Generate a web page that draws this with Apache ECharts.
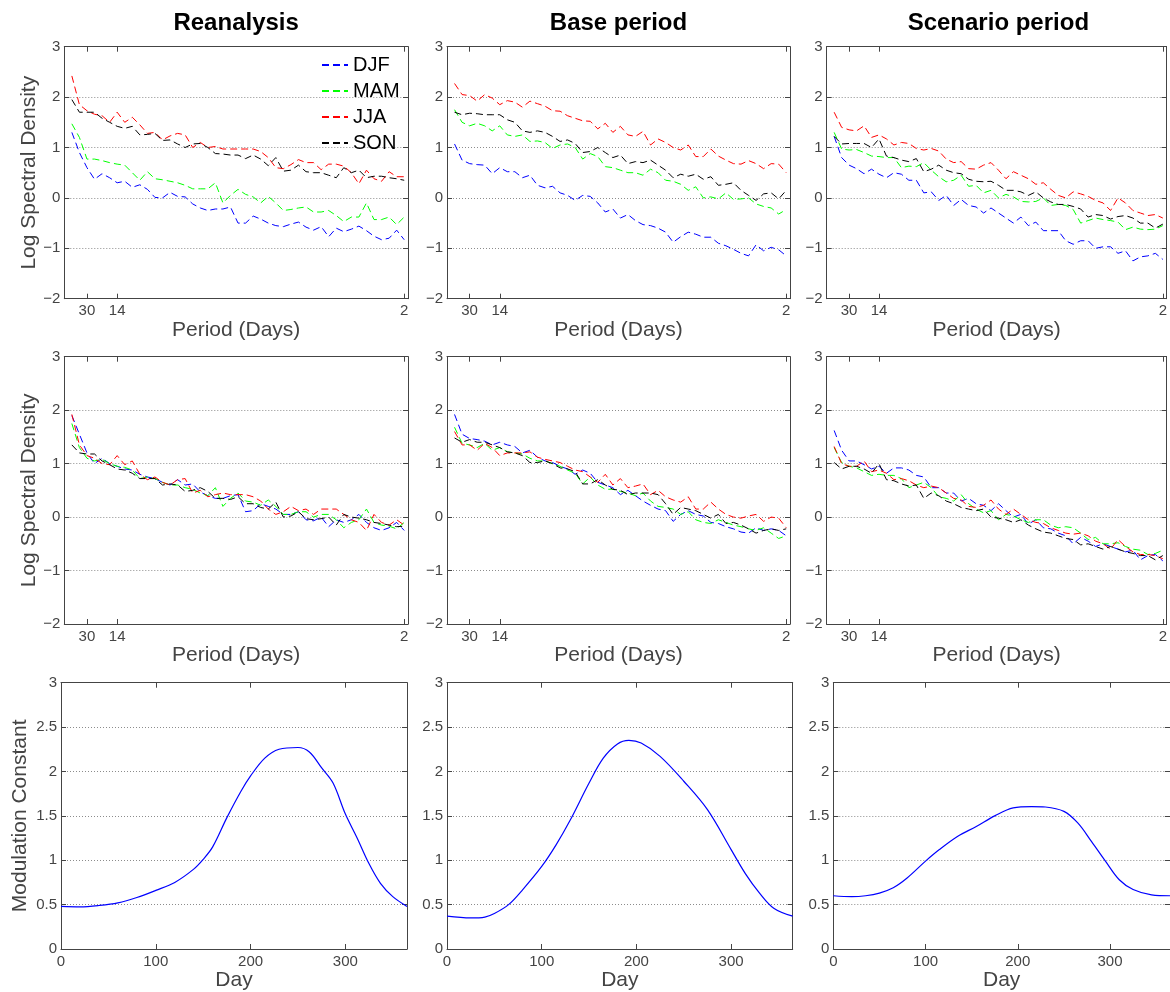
<!DOCTYPE html>
<html>
<head>
<meta charset="utf-8">
<title>Spectral density and modulation constant</title>
<script src="https://cdn.jsdelivr.net/npm/echarts@6/dist/echarts.min.js"></script>
<style>
  html, body { margin: 0; padding: 0; background: #fff; }
  #main { width: 1170px; height: 992px; }
</style>
</head>
<body>
<div id="main"></div>
<script>
// frequency index k (period = 90/k days), ticks shown as periods
var freqIndex = [1,2,3,4,5,6,7,8,9,10,11,12,13,14,15,16,17,18,19,20,21,22,23,24,25,26,27,28,29,30,31,32,33,34,35,36,37,38,39,40,41,42,43,44,45];
var periodTicks = [3, 7, 45];
var periodLabels = ['30', '14', '2'];
var dayTicks = [0, 100, 200, 300];
var seasons = ['DJF', 'MAM', 'JJA', 'SON'];
var seasonColors = ['#0000ff', '#00ff00', '#ff0000', '#000000'];
var columnTitles = ['Reanalysis', 'Base period', 'Scenario period'];

// row 1: raw log spectral density
var reanDJF = [1.30,0.90,0.60,0.37,0.48,0.40,0.30,0.33,0.21,0.26,0.17,0.01,0.00,0.11,0.03,0.02,-0.12,-0.20,-0.25,-0.22,-0.22,-0.18,-0.50,-0.50,-0.36,-0.42,-0.50,-0.55,-0.57,-0.52,-0.48,-0.58,-0.64,-0.57,-0.77,-0.60,-0.67,-0.62,-0.56,-0.65,-0.76,-0.83,-0.80,-0.64,-0.83];
var reanMAM = [1.47,1.20,0.77,0.77,0.74,0.70,0.67,0.65,0.50,0.35,0.52,0.38,0.36,0.33,0.30,0.25,0.18,0.18,0.18,0.30,-0.10,0.05,0.17,0.07,0.02,-0.10,0.03,-0.10,-0.25,-0.23,-0.20,-0.18,-0.28,-0.28,-0.25,-0.35,-0.47,-0.38,-0.38,-0.10,-0.43,-0.43,-0.38,-0.53,-0.38];
var reanJJA = [2.42,1.85,1.73,1.66,1.63,1.50,1.70,1.50,1.60,1.45,1.28,1.30,1.15,1.23,1.28,1.25,1.00,1.10,1.00,1.02,0.97,0.97,0.97,0.97,0.97,0.92,0.80,0.60,0.58,0.66,0.76,0.70,0.70,0.56,0.67,0.67,0.63,0.50,0.28,0.55,0.38,0.33,0.52,0.42,0.42];
var reanSON = [1.95,1.70,1.70,1.70,1.58,1.50,1.42,1.38,1.42,1.25,1.26,1.28,1.14,1.15,1.07,1.00,1.07,1.08,1.00,0.88,0.87,0.85,0.85,0.78,0.85,0.77,0.64,0.80,0.53,0.55,0.65,0.52,0.50,0.50,0.45,0.40,0.60,0.50,0.55,0.40,0.43,0.43,0.40,0.38,0.35];

var baseDJF = [1.07,0.75,0.68,0.66,0.65,0.48,0.60,0.52,0.52,0.40,0.45,0.25,0.20,0.23,0.10,0.05,-0.05,0.05,0.03,-0.10,-0.28,-0.22,-0.40,-0.33,-0.45,-0.53,-0.55,-0.60,-0.68,-0.88,-0.77,-0.68,-0.72,-0.78,-0.78,-0.90,-0.95,-1.02,-1.10,-1.15,-0.93,-1.05,-0.98,-1.03,-1.15];
var baseMAM = [1.75,1.50,1.43,1.48,1.43,1.33,1.43,1.25,1.22,1.25,1.12,1.13,1.10,0.98,1.05,1.07,1.00,0.77,0.88,0.82,0.62,0.60,0.55,0.50,0.50,0.45,0.57,0.50,0.35,0.33,0.27,0.15,0.22,0.00,0.02,-0.02,0.10,-0.03,-0.02,0.00,-0.12,-0.17,-0.20,-0.32,-0.23];
var baseJJA = [2.27,2.05,2.03,1.92,2.05,1.98,1.85,1.93,1.90,1.80,1.92,1.87,1.82,1.73,1.72,1.63,1.58,1.53,1.52,1.37,1.48,1.30,1.42,1.25,1.22,1.32,1.05,1.17,1.10,1.00,0.95,1.05,0.82,0.82,0.97,0.83,0.75,0.68,0.67,0.74,0.68,0.58,0.68,0.67,0.50];
var baseSON = [1.70,1.65,1.68,1.67,1.65,1.65,1.65,1.55,1.50,1.33,1.30,1.33,1.30,1.22,1.12,1.15,1.08,0.90,0.92,1.00,0.90,0.80,0.85,0.68,0.72,0.70,0.75,0.65,0.55,0.40,0.47,0.43,0.47,0.37,0.42,0.25,0.27,0.30,0.15,0.05,-0.05,0.08,0.10,-0.02,0.15];

var scenDJF = [1.22,0.80,0.65,0.58,0.48,0.57,0.47,0.40,0.50,0.47,0.35,0.35,0.10,0.12,-0.05,0.05,-0.15,-0.03,-0.15,-0.18,-0.30,-0.20,-0.30,-0.40,-0.50,-0.38,-0.55,-0.48,-0.65,-0.65,-0.65,-0.85,-0.92,-0.85,-0.85,-1.00,-0.97,-0.97,-1.10,-1.05,-1.25,-1.17,-1.15,-1.10,-1.22];
var scenMAM = [1.30,0.97,0.95,0.96,0.90,0.83,0.82,0.80,0.80,0.60,0.63,0.62,0.70,0.55,0.42,0.32,0.35,0.45,0.23,0.25,0.10,0.15,0.00,0.07,0.02,-0.07,-0.08,-0.07,0.00,-0.15,-0.13,-0.15,-0.23,-0.50,-0.45,-0.40,-0.43,-0.45,-0.48,-0.63,-0.58,-0.62,-0.63,-0.62,-0.55];
var scenJJA = [1.70,1.40,1.35,1.33,1.43,1.20,1.25,1.17,1.05,1.10,1.08,0.98,0.95,0.98,0.93,0.77,0.70,0.72,0.58,0.57,0.65,0.70,0.55,0.38,0.52,0.45,0.38,0.27,0.30,0.17,0.05,0.00,0.12,0.08,0.03,-0.05,-0.10,-0.25,0.00,-0.10,-0.25,-0.30,-0.35,-0.33,-0.40];
var scenSON = [1.22,1.07,1.08,1.08,1.08,1.00,1.17,0.83,0.80,0.75,0.72,0.78,0.52,0.57,0.65,0.55,0.50,0.48,0.37,0.33,0.32,0.33,0.25,0.15,0.15,0.12,0.05,0.12,0.00,-0.08,-0.13,-0.13,-0.17,-0.22,-0.38,-0.33,-0.35,-0.42,-0.37,-0.35,-0.40,-0.50,-0.50,-0.60,-0.52];

// row 2: after removing the seasonal modulation
var reanNormDJF = [1.90,1.55,1.20,1.00,1.10,1.00,0.95,0.90,0.88,0.80,0.75,0.72,0.65,0.60,0.70,0.60,0.62,0.47,0.40,0.35,0.35,0.40,0.42,0.10,0.12,0.25,0.20,0.15,0.05,0.05,0.10,-0.05,-0.07,0.00,-0.18,-0.05,-0.10,-0.05,0.05,-0.10,-0.20,-0.25,-0.20,-0.10,-0.25];
var reanNormMAM = [1.75,1.30,1.10,1.05,1.08,1.00,0.95,0.93,0.88,0.72,0.75,0.72,0.65,0.60,0.60,0.55,0.52,0.45,0.40,0.55,0.20,0.35,0.45,0.30,0.28,0.22,0.32,0.20,0.05,0.05,0.10,0.10,0.00,0.05,0.05,-0.05,-0.20,-0.10,-0.05,0.15,-0.10,-0.15,-0.17,-0.22,-0.10];
var reanNormJJA = [1.92,1.35,1.15,1.10,1.00,0.98,1.15,0.98,1.05,0.80,0.70,0.75,0.65,0.60,0.70,0.72,0.45,0.50,0.38,0.42,0.45,0.42,0.42,0.42,0.38,0.30,0.15,0.05,0.10,0.20,0.12,0.15,0.05,0.15,0.15,0.15,0.05,-0.05,-0.10,-0.25,0.05,-0.10,-0.15,-0.05,-0.15];
var reanNormSON = [1.35,1.20,1.18,1.18,1.05,0.98,0.90,0.88,0.82,0.72,0.72,0.72,0.60,0.62,0.60,0.48,0.50,0.55,0.48,0.35,0.35,0.33,0.38,0.25,0.25,0.18,0.15,0.28,0.00,0.02,0.10,-0.03,-0.05,-0.03,0.00,-0.15,0.05,0.00,-0.02,-0.05,-0.10,-0.12,-0.15,-0.18,-0.17];

var baseNormDJF = [1.92,1.55,1.47,1.45,1.42,1.35,1.40,1.35,1.32,1.20,1.25,1.12,1.05,1.02,0.95,0.90,0.80,0.88,0.82,0.65,0.60,0.55,0.42,0.50,0.40,0.30,0.22,0.15,0.12,-0.08,0.05,0.12,0.05,0.02,-0.10,-0.12,-0.18,-0.22,-0.28,-0.30,-0.20,-0.25,-0.22,-0.25,-0.35];
var baseNormMAM = [1.68,1.38,1.35,1.30,1.38,1.25,1.30,1.22,1.20,1.18,1.10,1.05,1.05,1.00,0.95,0.88,0.82,0.62,0.75,0.60,0.52,0.52,0.48,0.45,0.40,0.45,0.30,0.20,0.18,0.15,0.05,0.10,-0.05,-0.10,-0.12,-0.05,-0.10,-0.15,-0.18,-0.22,-0.25,-0.20,-0.30,-0.40,-0.35];
var baseNormJJA = [1.60,1.35,1.35,1.25,1.38,1.30,1.15,1.20,1.20,1.20,1.22,1.12,1.08,1.05,1.02,0.95,0.88,0.85,0.75,0.65,0.80,0.60,0.72,0.55,0.58,0.62,0.42,0.50,0.38,0.32,0.28,0.38,0.15,0.15,0.28,0.15,0.05,0.00,-0.02,0.02,0.05,-0.08,0.00,-0.02,-0.20];
var baseNormSON = [1.48,1.40,1.45,1.40,1.40,1.35,1.30,1.22,1.20,1.15,1.02,1.02,1.05,1.00,0.92,0.90,0.85,0.62,0.62,0.70,0.60,0.52,0.50,0.42,0.45,0.45,0.45,0.42,0.25,0.05,0.18,0.15,0.12,0.05,-0.02,0.05,-0.12,-0.10,-0.15,-0.22,-0.30,-0.25,-0.22,-0.25,-0.22];

var scenNormDJF = [1.62,1.25,1.05,1.05,0.98,0.90,0.95,0.82,0.92,0.92,0.88,0.78,0.75,0.55,0.55,0.45,0.45,0.30,0.35,0.25,0.22,0.12,0.25,0.12,0.00,0.05,-0.13,-0.05,-0.20,-0.22,-0.30,-0.35,-0.50,-0.38,-0.45,-0.55,-0.50,-0.55,-0.60,-0.65,-0.62,-0.80,-0.72,-0.70,-0.82];
var scenNormMAM = [1.30,1.02,0.95,0.92,0.85,0.78,0.80,0.78,0.78,0.72,0.55,0.60,0.65,0.55,0.38,0.35,0.30,0.42,0.25,0.15,0.08,0.12,-0.05,0.05,0.02,-0.05,-0.10,-0.05,-0.05,-0.15,-0.20,-0.18,-0.20,-0.30,-0.42,-0.38,-0.50,-0.50,-0.48,-0.55,-0.60,-0.62,-0.70,-0.68,-0.62];
var scenNormJJA = [1.32,1.00,0.95,0.95,1.05,0.85,0.88,0.82,0.70,0.72,0.68,0.60,0.55,0.58,0.55,0.45,0.35,0.32,0.20,0.18,0.22,0.32,0.15,0.05,0.15,0.05,-0.05,-0.10,-0.12,-0.20,-0.25,-0.30,-0.32,-0.30,-0.35,-0.45,-0.50,-0.60,-0.42,-0.55,-0.65,-0.70,-0.70,-0.72,-0.78];
var scenNormSON = [1.02,0.90,0.95,0.95,0.90,0.82,1.00,0.70,0.68,0.62,0.58,0.60,0.35,0.45,0.40,0.30,0.25,0.18,0.15,0.12,0.15,0.00,-0.02,-0.05,-0.10,-0.05,-0.15,-0.22,-0.28,-0.30,-0.35,-0.40,-0.42,-0.52,-0.50,-0.55,-0.60,-0.55,-0.60,-0.65,-0.68,-0.72,-0.72,-0.80,-0.72];

// row 3: modulation constant by day of year
var reanDays = [0,20,40,60,80,100,120,140,150,160,175,190,200,215,230,250,262,275,287,300,312,325,337,350,365];
var reanMod = [0.48,0.475,0.49,0.52,0.58,0.66,0.75,0.90,1.01,1.15,1.48,1.78,1.95,2.15,2.25,2.27,2.22,2.04,1.87,1.52,1.26,0.96,0.74,0.59,0.48];
var baseDays = [0,25,40,50,65,80,100,115,130,150,165,180,192,205,225,250,275,300,315,330,345,365];
var baseMod = [0.37,0.35,0.36,0.40,0.50,0.67,0.93,1.17,1.45,1.87,2.15,2.31,2.35,2.32,2.17,1.89,1.57,1.12,0.85,0.63,0.46,0.37];
var scenDays = [0,20,35,50,65,80,100,115,135,155,175,195,215,230,250,265,280,295,310,325,345,365];
var scenMod = [0.60,0.59,0.60,0.63,0.69,0.80,0.99,1.12,1.27,1.38,1.50,1.59,1.605,1.60,1.55,1.42,1.21,0.99,0.78,0.67,0.61,0.60];

var spectra = [
  [reanDJF, reanMAM, reanJJA, reanSON],
  [baseDJF, baseMAM, baseJJA, baseSON],
  [scenDJF, scenMAM, scenJJA, scenSON],
  [reanNormDJF, reanNormMAM, reanNormJJA, reanNormSON],
  [baseNormDJF, baseNormMAM, baseNormJJA, baseNormSON],
  [scenNormDJF, scenNormMAM, scenNormJJA, scenNormSON]
];
var modulation = [[reanDays, reanMod], [baseDays, baseMod], [scenDays, scenMod]];

var font = '"Liberation Sans", Arial, Helvetica, sans-serif';
var gray = '#444';

// panel boxes in px
var boxes = [
  {left: 64.3, top: 46.7, width: 343.7, height: 252},
  {left: 447, top: 46.7, width: 343, height: 252},
  {left: 826.7, top: 46.7, width: 343.3, height: 252},
  {left: 64.3, top: 356.7, width: 343.7, height: 267.3},
  {left: 447, top: 356.7, width: 343, height: 267.3},
  {left: 826.7, top: 356.7, width: 343.3, height: 267.3},
  {left: 61, top: 682.7, width: 346, height: 266.6},
  {left: 447, top: 682.7, width: 345.7, height: 266.6},
  {left: 833.3, top: 682.7, width: 346.5, height: 266.6}
];

function pairs(xs, ys) {
  var out = [];
  for (var i = 0; i < xs.length; i++) out.push([xs[i], ys[i]]);
  return out;
}

function minusSign(v) {
  return String(v).replace('-', '\u2212');
}

var nameStyle = {fontSize: 21, color: gray, fontFamily: font};
var labelStyle = {fontSize: 15, color: gray, fontFamily: font};

var grid = [], xAxis = [], yAxis = [], series = [];

boxes.forEach(function (b, g) {
  grid.push({left: b.left, top: b.top, width: b.width, height: b.height, containLabel: false});
  var isMod = g >= 6;
  var ticks = isMod ? dayTicks : periodTicks;
  var xBase = {
    gridIndex: g, type: 'value', min: 0, max: isMod ? 365 : 45.5,
    axisLine: {show: true, onZero: false, lineStyle: {color: gray, width: 1}},
    axisTick: {show: true, inside: true, length: 5, customValues: ticks, lineStyle: {color: gray}},
    splitLine: {show: false}
  };
  xAxis.push(Object.assign({}, xBase, {
    position: 'bottom',
    axisLabel: Object.assign({
      customValues: ticks, margin: 5,
      formatter: function (v) { return isMod ? String(v) : periodLabels[periodTicks.indexOf(v)]; }
    }, labelStyle),
    name: isMod ? 'Day' : 'Period (Days)', nameLocation: 'middle', nameGap: isMod ? 21 : 19,
    nameTextStyle: nameStyle
  }));
  xAxis.push(Object.assign({}, xBase, {position: 'top', axisLabel: {show: false}}));

  var yBase = {
    gridIndex: g, type: 'value',
    min: isMod ? 0 : -2, max: 3, interval: isMod ? 0.5 : 1,
    axisLine: {show: true, onZero: false, lineStyle: {color: gray, width: 1}},
    axisTick: {show: true, inside: true, length: 5, lineStyle: {color: gray}}
  };
  var yLeft = Object.assign({}, yBase, {
    position: 'left',
    axisLabel: Object.assign({margin: 4, formatter: minusSign}, labelStyle),
    splitLine: {show: true, lineStyle: {color: '#8c8c8c', width: 1, type: [1, 2]}}
  });
  if (g % 3 === 0) {
    yLeft.name = isMod ? 'Modulation Constant' : 'Log Spectral Density';
    yLeft.nameLocation = 'middle';
    yLeft.nameGap = isMod ? 30 : 25;
    yLeft.nameTextStyle = nameStyle;
  }
  yAxis.push(yLeft);
  yAxis.push(Object.assign({}, yBase, {position: 'right', axisLabel: {show: false}, splitLine: {show: false}}));

  if (isMod) {
    var m = modulation[g - 6];
    series.push({
      type: 'line', name: 'Modulation', xAxisIndex: 2 * g, yAxisIndex: 2 * g,
      data: pairs(m[0], m[1]), symbol: 'none', smooth: 0.35,
      lineStyle: {color: '#0000ff', width: 1.2}, itemStyle: {color: '#0000ff'}
    });
  } else {
    spectra[g].forEach(function (vals, s) {
      series.push({
        type: 'line', name: seasons[s], xAxisIndex: 2 * g, yAxisIndex: 2 * g,
        data: pairs(freqIndex, vals), symbol: 'none',
        lineStyle: {color: seasonColors[s], width: 1, type: [7, 4]},
        itemStyle: {color: seasonColors[s]}
      });
    });
  }
});

// column titles
var graphic = columnTitles.map(function (t, c) {
  var b = boxes[c];
  return {
    type: 'text', x: b.left + b.width / 2, y: 23,
    style: {text: t, fill: '#000', font: 'bold 24px ' + font, textAlign: 'center', textVerticalAlign: 'middle'}
  };
});

var myChart = echarts.init(document.getElementById('main'));
myChart.setOption({
  animation: false,
  backgroundColor: '#fff',
  grid: grid,
  xAxis: xAxis,
  yAxis: yAxis,
  series: series,
  graphic: graphic,
  legend: {
    data: seasons, orient: 'vertical', left: 321, top: 55,
    itemWidth: 26, itemHeight: 10, itemGap: 6, padding: 0, selectedMode: false,
    itemStyle: {opacity: 0},
    textStyle: {fontSize: 20, lineHeight: 20, color: '#000', fontFamily: font}
  }
});
</script>
</body>
</html>
